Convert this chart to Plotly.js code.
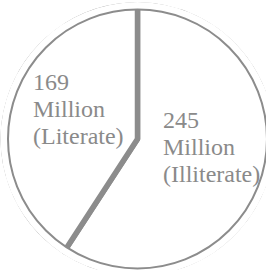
<!DOCTYPE html>
<html><head><meta charset="utf-8">
<script src="https://cdn.plot.ly/plotly-3.0.1.min.js"></script>
<style>html,body{margin:0;padding:0;overflow:hidden;background:#fff}#chart{width:300px;height:300px}</style>
</head><body><div id="chart"></div>
<script>
// ---- data ----
const labels = ['Illiterate', 'Literate'];
const values = [245, 169];
const unit = 'Million';

// ---- layout helpers (pixel geometry of the page) ----
const W = 300, H = 300;
const CX = 137.5, CY = 139, R = 129.5;
const GRAY = '#8c8c8c';
const TEXT = '#8a8a8a';
function dom(r) { return {x: [(CX - r) / W, (CX + r) / W], y: [1 - (CY + r) / H, 1 - (CY - r) / H]}; }

// slices with thick dividing lines (outer arc extends beyond the rim, masked below)
const slices = {
  type: 'pie', labels: labels, values: values, sort: false, direction: 'clockwise', rotation: 0,
  domain: dom(134), marker: {colors: ['#ffffff', '#ffffff'], line: {color: GRAY, width: 5.5}},
  textinfo: 'none', hoverinfo: 'skip', showlegend: false
};
// white ring hiding everything outside the rim
const mask = {
  type: 'pie', labels: ['mask'], values: [1], sort: false, domain: dom(137), hole: R / 137,
  marker: {colors: ['#ffffff'], line: {width: 0}}, textinfo: 'none', hoverinfo: 'skip', showlegend: false
};
// thin outer rim
const rim = {
  type: 'pie', labels: ['rim'], values: [1], sort: false, domain: dom(R),
  marker: {colors: ['rgba(0,0,0,0)'], line: {color: GRAY, width: 2}}, textinfo: 'none', hoverinfo: 'skip', showlegend: false
};

const blocks = [
  {i: 1, x: 31, baselines: [89.5, 117, 144]},
  {i: 0, x: 161, baselines: [127.5, 155, 182]}
];
const annotations = [];
blocks.forEach(b => {
  const lines = [String(values[b.i]), unit, '(' + labels[b.i] + ')'];
  lines.forEach((t, k) => {
    annotations.push({
      text: t, x: b.x / W, y: 1 - (b.baselines[k] - 8) / H, xref: 'paper', yref: 'paper',
      xanchor: 'left', yanchor: 'middle', showarrow: false,
      font: {family: 'Liberation Serif, Times New Roman, serif', size: 24, color: TEXT}
    });
  });
});

Plotly.newPlot('chart', [slices, mask, rim], {
  width: W, height: H, margin: {l: 0, r: 0, t: 0, b: 0},
  paper_bgcolor: '#ffffff', plot_bgcolor: '#ffffff', showlegend: false,
  annotations: annotations
}, {staticPlot: true, displayModeBar: false});
</script>
</body></html>
